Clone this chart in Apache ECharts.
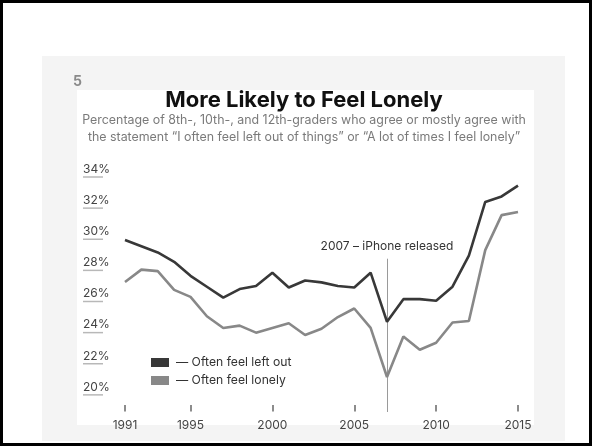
<!DOCTYPE html>
<html>
<head>
<meta charset="utf-8">
<script src="https://cdn.jsdelivr.net/npm/echarts@6/dist/echarts.min.js"></script>
<style>
html,body{margin:0;padding:0;background:#fff;}
#chart{width:592px;height:446px;}
</style>
</head>
<body>
<div id="chart"></div>
<script>
const years = ['1991','1992','1993','1994','1995','1996','1997','1998','1999','2000','2001','2002','2003','2004','2005','2006','2007','2008','2009','2010','2011','2012','2013','2014','2015'];
const leftOut = [29.5,29.1,28.7,28.1,27.2,26.5,25.8,26.35,26.55,27.4,26.45,26.9,26.78,26.55,26.45,27.4,24.25,25.7,25.7,25.6,26.5,28.5,31.95,32.3,33.0];
const lonely  = [26.8,27.6,27.5,26.3,25.85,24.6,23.85,24.0,23.55,23.85,24.15,23.4,23.8,24.55,25.1,23.85,20.7,23.3,22.45,22.9,24.2,24.3,28.85,31.1,31.3];
const xTickYears = ['1991','1995','2000','2005','2010','2015'];
const xTickSpan = [18.9, 18.48];
const firstYLabel = 20;
const seriesNames = ['Often feel left out','Often feel lonely'];
const titleText = 'More Likely to Feel Lonely';
const subtitleText = 'Percentage of 8th-, 10th-, and 12th-graders who agree or mostly agree with\nthe statement \u201cI often feel left out of things\u201d or \u201cA lot of times I feel lonely\u201d';
const iphoneYear = '2007';
const iphoneLabel = '2007 \u2013 iPhone released';
const iphoneSpan = [28.3, 18.45];

const font = 'Inter, Roboto, "DejaVu Sans", sans-serif';
const chart = echarts.init(document.getElementById('chart'), null, {renderer:'canvas'});
const showX = (i, v) => xTickYears.indexOf(String(v)) >= 0;

chart.setOption({
  animation:false,
  backgroundColor:'#fff',
  textStyle:{fontFamily:font},
  graphic:[
    {type:'rect', z:-10, shape:{x:42,y:56,width:523,height:385}, style:{fill:'#f4f4f4'}},
    {type:'rect', z:-9, shape:{x:77,y:90,width:457,height:335}, style:{fill:'#ffffff'}},
    {type:'rect', z:100, shape:{x:1.5,y:1.5,width:589,height:443}, style:{fill:null, stroke:'#000', lineWidth:3}},
    {type:'text', left:73, top:75, style:{text:'5', font:'bold 14px '+font, fill:'#8a8a8a'}}
  ],
  title:[
    {text:titleText, left:299, top:84, textAlign:'center',
     textStyle:{fontSize:22, fontWeight:'bold', color:'#111', fontFamily:font},
     subtext:subtitleText, itemGap:1,
     subtextStyle:{fontSize:12.4, color:'#7a7a7a', lineHeight:17, fontFamily:font, align:'center'}}
  ],
  legend:{
    orient:'vertical', left:146, top:350, itemWidth:18, itemHeight:9, itemGap:3,
    icon:'rect', data:seriesNames,
    formatter: n => '\u2014 ' + n,
    textStyle:{fontSize:12.2, color:'#333', lineHeight:15, padding:[0,0,0,2]}
  },
  grid:{left:125, right:74, top:170, bottom:27},
  xAxis:{
    type:'category', data:years, boundaryGap:false, offset:-13,
    axisLine:{show:false},
    axisTick:{show:false},
    axisLabel:{interval:showX, margin:13, fontSize:12, color:'#444'},
    splitLine:{show:false}
  },
  yAxis:{
    type:'value', min:18, max:34, interval:2,
    axisLine:{show:false}, axisTick:{show:false}, splitLine:{show:false},
    axisLabel:{
      align:'left', margin:42,
      formatter: v => v < firstYLabel ? '' : '{v|' + v + '%}\n{u|}',
      rich:{
        v:{fontSize:12, color:'#444', lineHeight:14, fontFamily:font},
        u:{width:20, height:1.5, backgroundColor:'#b8b8b8'}
      }
    }
  },
  series:[
    {name:seriesNames[0], type:'line', data:leftOut, showSymbol:false, z:3,
     itemStyle:{color:'#383838'}, lineStyle:{color:'#383838', width:2.6},
     markLine:{
       silent:true, symbol:['none','none'], z:1,
       lineStyle:{color:'#666', width:1.5, type:'solid'},
       label:{show:false},
       data: xTickYears.map(y => [{coord:[y, xTickSpan[0]]},{coord:[y, xTickSpan[1]]}])
     }},
    {name:seriesNames[1], type:'line', data:lonely, showSymbol:false, z:3,
     itemStyle:{color:'#888888'}, lineStyle:{color:'#888888', width:2.6},
     markLine:{
       silent:true, symbol:['none','none'], z:1,
       lineStyle:{color:'#9a9a9a', width:1, type:'solid'},
       label:{show:true, position:'start', formatter:iphoneLabel, fontSize:12, color:'#333', distance:6},
       data:[[{coord:[iphoneYear, iphoneSpan[0]]},{coord:[iphoneYear, iphoneSpan[1]]}]]
     }}
  ]
});
</script>
</body>
</html>
